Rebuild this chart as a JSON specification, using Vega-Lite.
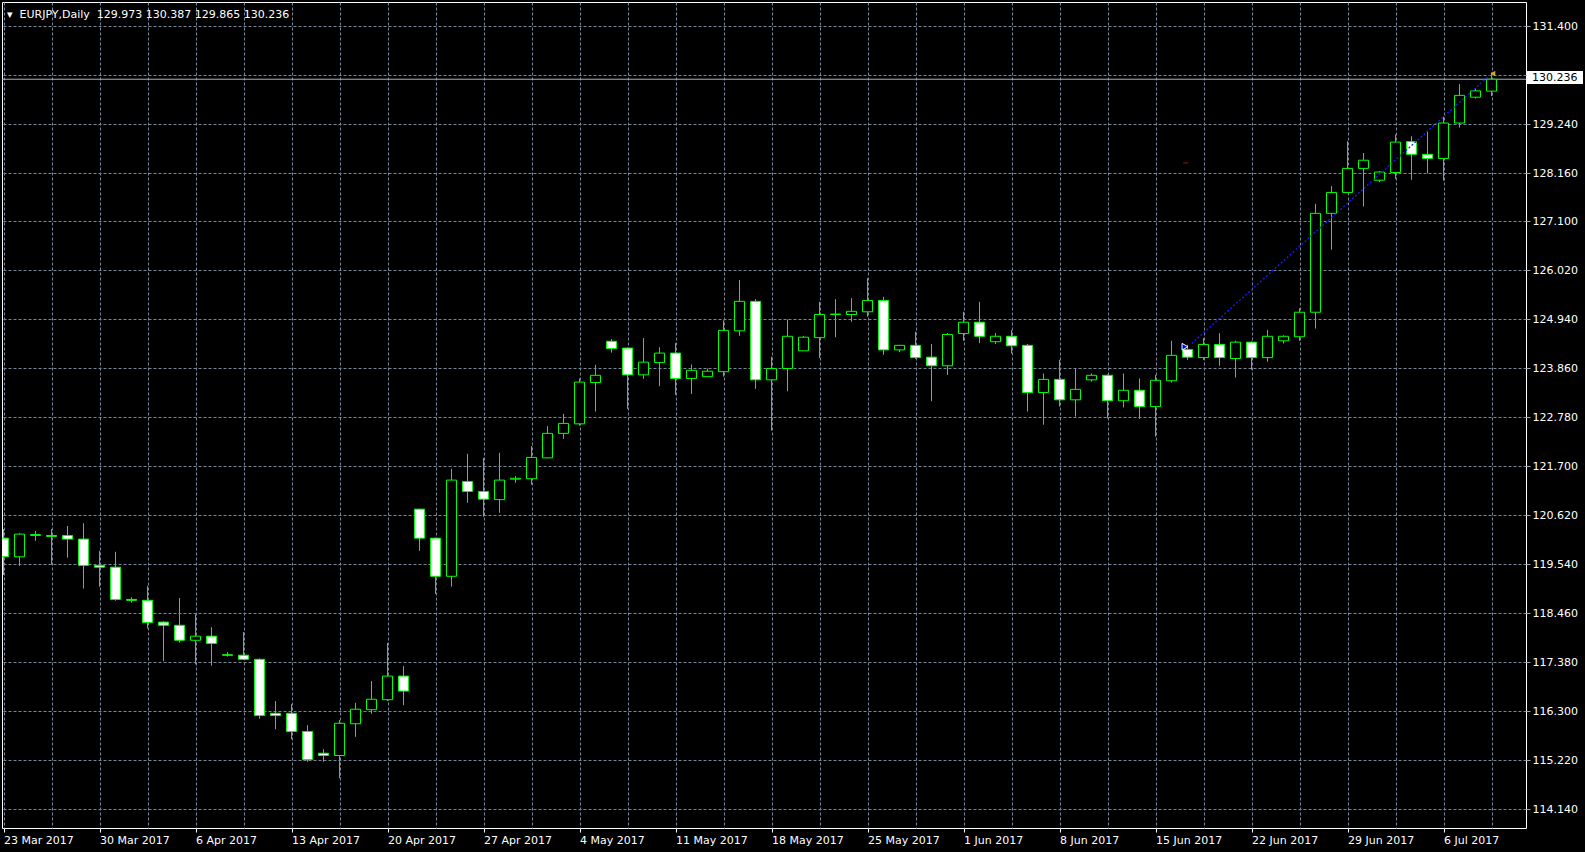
{
  "$schema": "https://vega.github.io/schema/vega-lite/v6.json",
  "width": 1524,
  "height": 826,
  "autosize": {"type": "none"},
  "padding": {"left": 2, "top": 2, "right": 59, "bottom": 24},
  "background": "#000000",
  "title": {
    "text": "▾\u00a0\u00a0EURJPY,Daily\u00a0\u00a0129.973 130.387 129.865 130.236",
    "anchor": "start",
    "frame": "group",
    "orient": "top",
    "offset": -18,
    "baseline": "top",
    "dx": 5,
    "font": "DejaVu Sans",
    "fontSize": 11,
    "fontWeight": "normal",
    "color": "#FFFFFF"
  },
  "config": {
    "view": {"stroke": "#FFFFFF", "strokeWidth": 1},
    "font": "DejaVu Sans"
  },
  "datasets": {
    "ohlc": [
      {"i":0,"date":"2017-03-23","open":120.12,"high":120.32,"low":119.31,"close":119.71},
      {"i":1,"date":"2017-03-24","open":119.71,"high":120.23,"low":119.51,"close":120.21},
      {"i":2,"date":"2017-03-26","open":120.18,"high":120.28,"low":120.06,"close":120.20},
      {"i":3,"date":"2017-03-27","open":120.18,"high":120.32,"low":119.54,"close":120.16},
      {"i":4,"date":"2017-03-28","open":120.18,"high":120.39,"low":119.69,"close":120.10},
      {"i":5,"date":"2017-03-29","open":120.10,"high":120.45,"low":119.01,"close":119.52},
      {"i":6,"date":"2017-03-30","open":119.52,"high":119.84,"low":119.05,"close":119.48},
      {"i":7,"date":"2017-03-31","open":119.48,"high":119.82,"low":118.74,"close":118.77},
      {"i":8,"date":"2017-04-02","open":118.77,"high":118.82,"low":118.70,"close":118.75},
      {"i":9,"date":"2017-04-03","open":118.75,"high":119.07,"low":118.13,"close":118.26},
      {"i":10,"date":"2017-04-04","open":118.27,"high":118.29,"low":117.41,"close":118.20},
      {"i":11,"date":"2017-04-05","open":118.20,"high":118.80,"low":117.82,"close":117.87},
      {"i":12,"date":"2017-04-06","open":117.87,"high":118.44,"low":117.34,"close":117.96},
      {"i":13,"date":"2017-04-07","open":117.96,"high":118.16,"low":117.31,"close":117.80},
      {"i":14,"date":"2017-04-09","open":117.55,"high":117.61,"low":117.51,"close":117.54},
      {"i":15,"date":"2017-04-10","open":117.54,"high":118.05,"low":117.44,"close":117.45},
      {"i":16,"date":"2017-04-11","open":117.45,"high":117.47,"low":116.14,"close":116.21},
      {"i":17,"date":"2017-04-12","open":116.26,"high":116.53,"low":115.91,"close":116.21},
      {"i":18,"date":"2017-04-13","open":116.26,"high":116.46,"low":115.69,"close":115.86},
      {"i":19,"date":"2017-04-14","open":115.86,"high":116.00,"low":115.19,"close":115.24},
      {"i":20,"date":"2017-04-16","open":115.38,"high":115.47,"low":115.19,"close":115.33},
      {"i":21,"date":"2017-04-17","open":115.33,"high":116.11,"low":114.83,"close":116.04},
      {"i":22,"date":"2017-04-18","open":116.03,"high":116.49,"low":115.74,"close":116.35},
      {"i":23,"date":"2017-04-19","open":116.34,"high":116.97,"low":116.25,"close":116.57},
      {"i":24,"date":"2017-04-20","open":116.56,"high":117.81,"low":116.53,"close":117.08},
      {"i":25,"date":"2017-04-21","open":117.08,"high":117.30,"low":116.44,"close":116.75},
      {"i":26,"date":"2017-04-23","open":120.76,"high":120.77,"low":119.84,"close":120.12},
      {"i":27,"date":"2017-04-24","open":120.12,"high":120.13,"low":118.89,"close":119.28},
      {"i":28,"date":"2017-04-25","open":119.28,"high":121.65,"low":119.05,"close":121.40},
      {"i":29,"date":"2017-04-26","open":121.37,"high":121.98,"low":120.90,"close":121.15},
      {"i":30,"date":"2017-04-27","open":121.15,"high":121.89,"low":120.59,"close":120.98},
      {"i":31,"date":"2017-04-28","open":120.97,"high":122.00,"low":120.68,"close":121.40},
      {"i":32,"date":"2017-04-30","open":121.42,"high":121.49,"low":121.34,"close":121.44},
      {"i":33,"date":"2017-05-01","open":121.43,"high":122.15,"low":121.30,"close":121.90},
      {"i":34,"date":"2017-05-02","open":121.89,"high":122.59,"low":121.88,"close":122.43},
      {"i":35,"date":"2017-05-03","open":122.43,"high":122.86,"low":122.31,"close":122.65},
      {"i":36,"date":"2017-05-04","open":122.64,"high":123.64,"low":122.60,"close":123.56},
      {"i":37,"date":"2017-05-05","open":123.55,"high":123.94,"low":122.91,"close":123.71},
      {"i":38,"date":"2017-05-07","open":124.46,"high":124.51,"low":124.21,"close":124.30},
      {"i":39,"date":"2017-05-08","open":124.31,"high":124.32,"low":122.97,"close":123.72},
      {"i":40,"date":"2017-05-09","open":123.72,"high":124.53,"low":123.63,"close":124.00},
      {"i":41,"date":"2017-05-10","open":123.99,"high":124.33,"low":123.47,"close":124.20},
      {"i":42,"date":"2017-05-11","open":124.20,"high":124.42,"low":123.28,"close":123.64},
      {"i":43,"date":"2017-05-12","open":123.64,"high":123.95,"low":123.30,"close":123.82},
      {"i":44,"date":"2017-05-14","open":123.68,"high":123.86,"low":123.68,"close":123.80},
      {"i":45,"date":"2017-05-15","open":123.79,"high":124.92,"low":123.68,"close":124.70},
      {"i":46,"date":"2017-05-16","open":124.69,"high":125.81,"low":124.58,"close":125.34},
      {"i":47,"date":"2017-05-17","open":125.34,"high":125.39,"low":123.41,"close":123.61},
      {"i":48,"date":"2017-05-18","open":123.61,"high":124.12,"low":122.49,"close":123.86},
      {"i":49,"date":"2017-05-19","open":123.86,"high":124.94,"low":123.36,"close":124.57},
      {"i":50,"date":"2017-05-21","open":124.25,"high":124.58,"low":124.25,"close":124.55},
      {"i":51,"date":"2017-05-22","open":124.54,"high":125.33,"low":124.09,"close":125.05},
      {"i":52,"date":"2017-05-23","open":125.05,"high":125.39,"low":124.55,"close":125.06},
      {"i":53,"date":"2017-05-24","open":125.05,"high":125.41,"low":124.89,"close":125.12},
      {"i":54,"date":"2017-05-25","open":125.11,"high":125.85,"low":125.00,"close":125.36},
      {"i":55,"date":"2017-05-26","open":125.36,"high":125.44,"low":124.16,"close":124.27},
      {"i":56,"date":"2017-05-28","open":124.27,"high":124.38,"low":124.22,"close":124.37},
      {"i":57,"date":"2017-05-29","open":124.37,"high":124.67,"low":124.07,"close":124.10},
      {"i":58,"date":"2017-05-30","open":124.11,"high":124.40,"low":123.14,"close":123.92},
      {"i":59,"date":"2017-05-31","open":123.92,"high":124.64,"low":123.72,"close":124.61},
      {"i":60,"date":"2017-06-01","open":124.63,"high":125.11,"low":124.47,"close":124.88},
      {"i":61,"date":"2017-06-02","open":124.88,"high":125.33,"low":124.42,"close":124.57},
      {"i":62,"date":"2017-06-04","open":124.45,"high":124.64,"low":124.40,"close":124.57},
      {"i":63,"date":"2017-06-05","open":124.57,"high":124.71,"low":124.19,"close":124.36},
      {"i":64,"date":"2017-06-06","open":124.37,"high":124.40,"low":122.91,"close":123.33},
      {"i":65,"date":"2017-06-07","open":123.33,"high":123.75,"low":122.62,"close":123.62},
      {"i":66,"date":"2017-06-08","open":123.62,"high":124.05,"low":123.02,"close":123.17},
      {"i":67,"date":"2017-06-09","open":123.17,"high":123.86,"low":122.80,"close":123.40},
      {"i":68,"date":"2017-06-11","open":123.61,"high":123.75,"low":123.57,"close":123.71},
      {"i":69,"date":"2017-06-12","open":123.71,"high":123.73,"low":122.76,"close":123.15},
      {"i":70,"date":"2017-06-13","open":123.15,"high":123.75,"low":123.00,"close":123.38},
      {"i":71,"date":"2017-06-14","open":123.38,"high":123.64,"low":122.75,"close":123.02},
      {"i":72,"date":"2017-06-15","open":123.02,"high":123.72,"low":122.36,"close":123.60},
      {"i":73,"date":"2017-06-16","open":123.59,"high":124.47,"low":123.55,"close":124.15},
      {"i":74,"date":"2017-06-18","open":124.28,"high":124.38,"low":124.05,"close":124.11},
      {"i":75,"date":"2017-06-19","open":124.10,"high":124.53,"low":124.05,"close":124.39},
      {"i":76,"date":"2017-06-20","open":124.39,"high":124.64,"low":123.92,"close":124.10},
      {"i":77,"date":"2017-06-21","open":124.08,"high":124.47,"low":123.66,"close":124.44},
      {"i":78,"date":"2017-06-22","open":124.44,"high":124.46,"low":123.83,"close":124.10},
      {"i":79,"date":"2017-06-23","open":124.10,"high":124.71,"low":124.01,"close":124.57},
      {"i":80,"date":"2017-06-25","open":124.47,"high":124.59,"low":124.41,"close":124.57},
      {"i":81,"date":"2017-06-26","open":124.56,"high":125.19,"low":124.47,"close":125.10},
      {"i":82,"date":"2017-06-27","open":125.10,"high":127.49,"low":124.74,"close":127.28},
      {"i":83,"date":"2017-06-28","open":127.28,"high":127.88,"low":126.48,"close":127.74},
      {"i":84,"date":"2017-06-29","open":127.74,"high":128.87,"low":127.74,"close":128.27},
      {"i":85,"date":"2017-06-30","open":128.27,"high":128.61,"low":127.43,"close":128.45},
      {"i":86,"date":"2017-07-02","open":128.01,"high":128.21,"low":127.97,"close":128.19},
      {"i":87,"date":"2017-07-03","open":128.18,"high":129.02,"low":128.04,"close":128.85},
      {"i":88,"date":"2017-07-04","open":128.86,"high":128.98,"low":128.02,"close":128.58},
      {"i":89,"date":"2017-07-05","open":128.58,"high":129.09,"low":128.16,"close":128.49},
      {"i":90,"date":"2017-07-06","open":128.49,"high":129.41,"low":128.00,"close":129.27},
      {"i":91,"date":"2017-07-07","open":129.27,"high":130.13,"low":129.17,"close":129.88},
      {"i":92,"date":"2017-07-09","open":129.84,"high":130.03,"low":129.81,"close":129.98},
      {"i":93,"date":"2017-07-10","open":129.973,"high":130.387,"low":129.865,"close":130.236}
    ],
    "trend": [{"i": 74.26, "v": 124.41}, {"i": 92.9, "v": 130.33}],
    "price": [{"p": 130.236, "a": 95.22, "b": 98.72, "lo": 130.13, "hi": 130.417, "tx": 95.53, "ty": 130.27, "label": "130.236"}],
    "arrow": [{"i": 73.84, "v": 124.34}],
    "marker": [{"i": 93.09, "v": 130.36}],
    "dash": [{"x1": 73.73, "x2": 74.05, "v": 128.39}]
  },
  "layer": [
    {
      "data": {"name": "price"},
      "mark": {"type": "rule", "color": "#A9B2C3", "strokeWidth": 1},
      "encoding": {
        "y": {"field": "p", "type": "quantitative", "title": null,
              "scale": {"domain": [113.732, 131.938], "nice": false, "zero": false, "padding": 0}}
      }
    },
    {
      "data": {"name": "ohlc"},
      "mark": {"type": "rule", "color": "#00FF00", "strokeWidth": 1, "clip": true},
      "encoding": {
        "x": {
          "field": "i", "type": "quantitative", "title": null,
          "scale": {"domain": [-0.09375, 95.15625], "nice": false, "zero": false, "padding": 0},
          "axis": {
            "values": [0,3,6,9,12,15,18,21,24,27,30,33,36,39,42,45,48,51,54,57,60,63,66,69,72,75,78,81,84,87,90,93],
            "grid": true, "gridColor": "#778899", "gridDash": [3, 2], "gridWidth": 1,
            "domain": false,
            "ticks": true, "tickSize": 4, "tickColor": "#FFFFFF",
            "tickOpacity": {"condition": {"test": "datum.value % 6 === 0", "value": 1}, "value": 0},
            "labelExpr": "datum.value % 6 === 0 ? ['23 Mar 2017','30 Mar 2017','6 Apr 2017','13 Apr 2017','20 Apr 2017','27 Apr 2017','4 May 2017','11 May 2017','18 May 2017','25 May 2017','1 Jun 2017','8 Jun 2017','15 Jun 2017','22 Jun 2017','29 Jun 2017','6 Jul 2017'][datum.value / 6] : ''",
            "labelAlign": "left", "labelBaseline": "top", "labelPadding": 2,
            "labelFont": "DejaVu Sans", "labelFontSize": 11, "labelColor": "#FFFFFF",
            "labelFlush": false, "labelOverlap": false, "labelBound": false
          }
        },
        "y": {
          "field": "low", "type": "quantitative", "title": null,
          "scale": {"domain": [113.732, 131.938], "nice": false, "zero": false, "padding": 0},
          "axis": {
            "orient": "right",
            "values": [114.14, 115.22, 116.30, 117.38, 118.46, 119.54, 120.62, 121.70, 122.78, 123.86, 124.94, 126.02, 127.10, 128.16, 129.24, 130.32, 131.40],
            "grid": true, "gridColor": "#778899", "gridDash": [3, 2], "gridWidth": 1,
            "domain": false,
            "ticks": true, "tickSize": 4, "tickColor": "#A0A8B4",
            "labelExpr": "datum.value === 130.32 ? '' : format(datum.value, '.3f')",
            "labelAlign": "left", "labelBaseline": "middle", "labelPadding": 2,
            "labelFont": "DejaVu Sans", "labelFontSize": 11, "labelColor": "#FFFFFF",
            "labelFlush": false, "labelOverlap": false, "labelBound": false
          }
        },
        "y2": {"field": "high"}
      }
    },
    {
      "data": {"name": "ohlc"},
      "mark": {"type": "bar", "width": 10, "stroke": "#00FF00", "strokeWidth": 1, "clip": true},
      "encoding": {
        "x": {"field": "i", "type": "quantitative", "title": null,
              "scale": {"domain": [-0.09375, 95.15625], "nice": false, "zero": false, "padding": 0}},
        "y": {"field": "open", "type": "quantitative", "title": null,
              "scale": {"domain": [113.732, 131.938], "nice": false, "zero": false, "padding": 0}},
        "y2": {"field": "close"},
        "fill": {"condition": {"test": "datum.close < datum.open", "value": "#FFFFFF"}, "value": "#000000"}
      }
    },
    {
      "data": {"name": "trend"},
      "mark": {"type": "line", "color": "#1A1AFF", "strokeWidth": 1.3, "strokeDash": [2, 2]},
      "encoding": {
        "x": {"field": "i", "type": "quantitative", "title": null,
              "scale": {"domain": [-0.09375, 95.15625], "nice": false, "zero": false, "padding": 0}},
        "y": {"field": "v", "type": "quantitative", "title": null,
              "scale": {"domain": [113.732, 131.938], "nice": false, "zero": false, "padding": 0}}
      }
    },
    {
      "data": {"name": "dash"},
      "mark": {"type": "rule", "color": "#A01818", "strokeWidth": 1},
      "encoding": {
        "x": {"field": "x1", "type": "quantitative", "title": null,
              "scale": {"domain": [-0.09375, 95.15625], "nice": false, "zero": false, "padding": 0}},
        "x2": {"field": "x2"},
        "y": {"field": "v", "type": "quantitative", "title": null,
              "scale": {"domain": [113.732, 131.938], "nice": false, "zero": false, "padding": 0}}
      }
    },
    {
      "data": {"name": "arrow"},
      "mark": {"type": "point", "shape": "triangle-right", "size": 45, "filled": true, "fill": "#0000FF", "stroke": "#FFFFFF", "strokeWidth": 1, "opacity": 1},
      "encoding": {
        "x": {"field": "i", "type": "quantitative", "title": null,
              "scale": {"domain": [-0.09375, 95.15625], "nice": false, "zero": false, "padding": 0}},
        "y": {"field": "v", "type": "quantitative", "title": null,
              "scale": {"domain": [113.732, 131.938], "nice": false, "zero": false, "padding": 0}}
      }
    },
    {
      "data": {"name": "marker"},
      "mark": {"type": "point", "shape": "triangle-left", "size": 30, "filled": true, "fill": "#DAA520", "opacity": 1},
      "encoding": {
        "x": {"field": "i", "type": "quantitative", "title": null,
              "scale": {"domain": [-0.09375, 95.15625], "nice": false, "zero": false, "padding": 0}},
        "y": {"field": "v", "type": "quantitative", "title": null,
              "scale": {"domain": [113.732, 131.938], "nice": false, "zero": false, "padding": 0}}
      }
    },
    {
      "data": {"name": "price"},
      "mark": {"type": "rect", "fill": "#FFFFFF", "clip": false},
      "encoding": {
        "x": {"field": "a", "type": "quantitative", "title": null,
              "scale": {"domain": [-0.09375, 95.15625], "nice": false, "zero": false, "padding": 0}},
        "x2": {"field": "b"},
        "y": {"field": "lo", "type": "quantitative", "title": null,
              "scale": {"domain": [113.732, 131.938], "nice": false, "zero": false, "padding": 0}},
        "y2": {"field": "hi"}
      }
    },
    {
      "data": {"name": "price"},
      "mark": {"type": "text", "align": "left", "baseline": "middle", "font": "DejaVu Sans", "fontSize": 11, "color": "#000000", "clip": false},
      "encoding": {
        "x": {"field": "tx", "type": "quantitative", "title": null,
              "scale": {"domain": [-0.09375, 95.15625], "nice": false, "zero": false, "padding": 0}},
        "y": {"field": "ty", "type": "quantitative", "title": null,
              "scale": {"domain": [113.732, 131.938], "nice": false, "zero": false, "padding": 0}},
        "text": {"field": "label"}
      }
    }
  ]
}
